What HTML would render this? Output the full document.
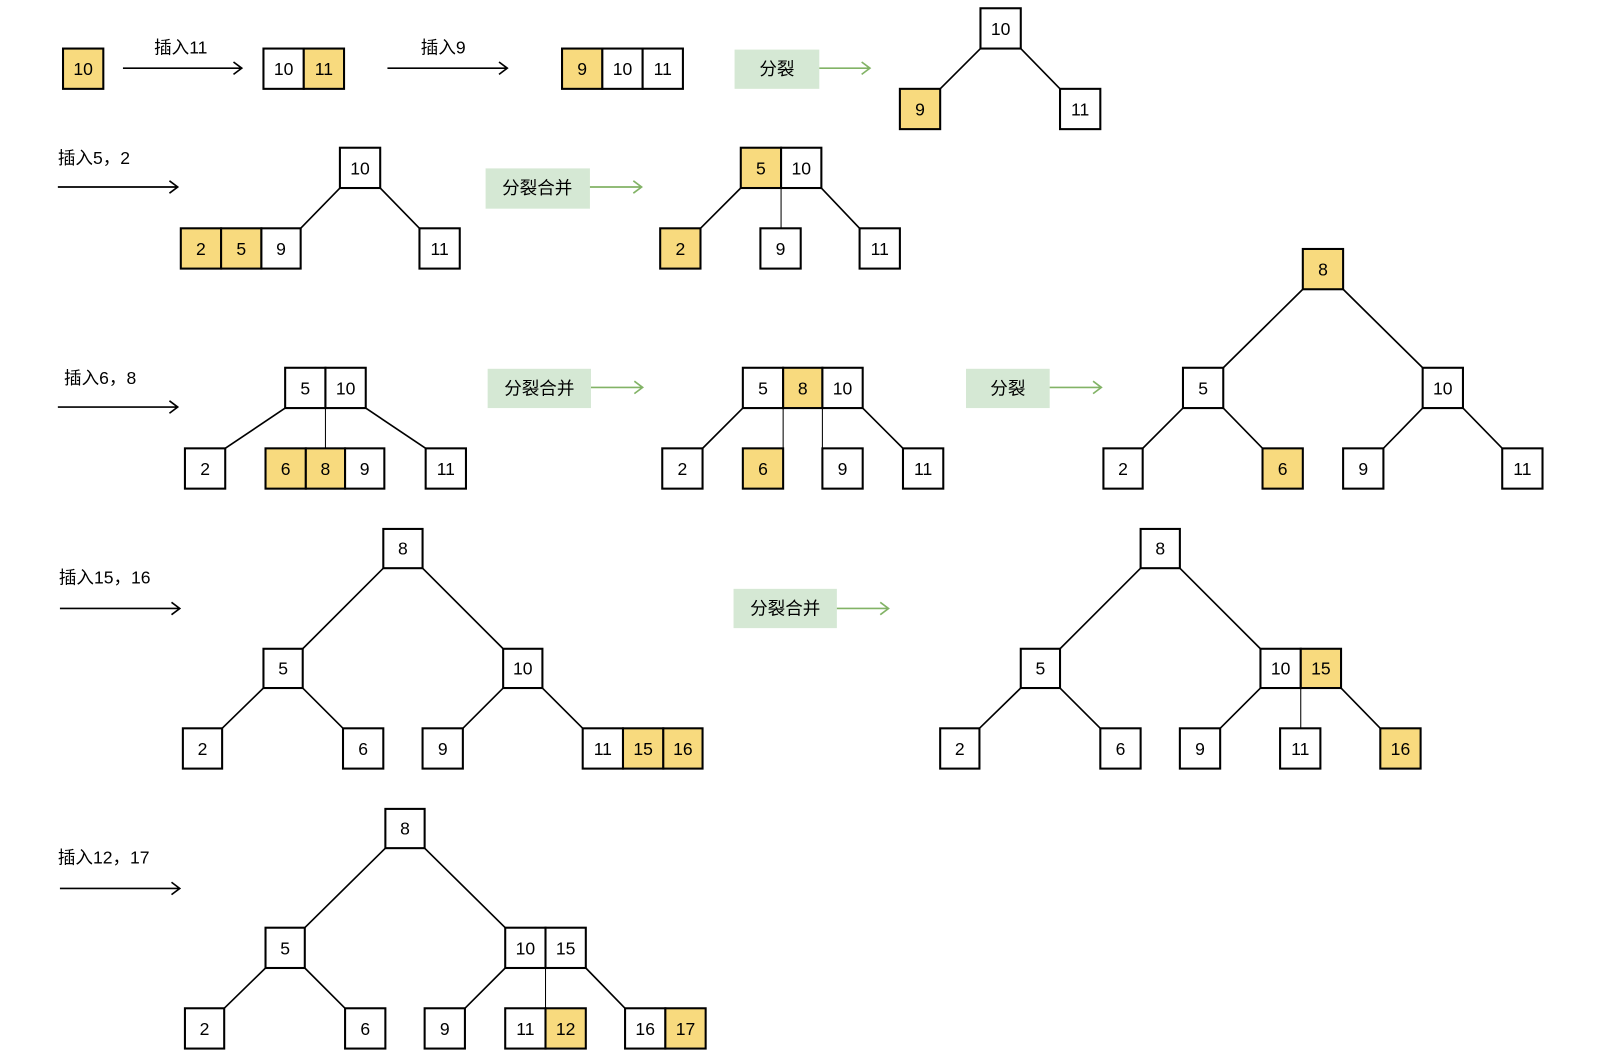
<!DOCTYPE html>
<html><head><meta charset="utf-8"><style>
html,body{margin:0;padding:0;background:#fff}
svg{display:block}
text{font-family:"Liberation Sans","Noto Sans CJK SC",sans-serif;font-size:17px;fill:#000;text-anchor:middle;dominant-baseline:central}
.lb{text-anchor:start}
.b{fill:#fff;stroke:#000;stroke-width:2}
.y{fill:#F8DA7E;stroke:#000;stroke-width:2}
.l{stroke:#000;stroke-width:1.6;fill:none}
.s{stroke:#000;stroke-width:1;fill:none}
.g{fill:#D5E8D4}
.ga{stroke:#82B366;stroke-width:1.6;fill:none}
</style></head><body>
<svg width="1620" height="1062" viewBox="0 0 1568 1028" preserveAspectRatio="none" xmlns="http://www.w3.org/2000/svg">
<!-- Row 1 -->
<rect class="y" x="61" y="47" width="39" height="39"/><text x="80.5" y="67">10</text>
<text x="175" y="46">插入11</text><path class="l" d="M119 66H234M226 60L234 66L226 72"/>
<rect class="b" x="255" y="47" width="39" height="39"/><text x="274.5" y="67">10</text>
<rect class="y" x="294" y="47" width="39" height="39"/><text x="313.5" y="67">11</text>
<text x="429" y="46">插入9</text><path class="l" d="M375 66H491M483 60L491 66L483 72"/>
<rect class="y" x="544" y="47" width="39" height="39"/><text x="563.5" y="67">9</text>
<rect class="b" x="583" y="47" width="39" height="39"/><text x="602.5" y="67">10</text>
<rect class="b" x="622" y="47" width="39" height="39"/><text x="641.5" y="67">11</text>
<rect class="g" x="711" y="48" width="82" height="38"/><text x="752" y="67">分裂</text>
<path class="ga" d="M793 66H842M834 60L842 66L834 72"/>
<path class="l" d="M949 47L910 86M988 47L1026 86"/>
<rect class="b" x="949" y="8" width="39" height="39"/><text x="968.5" y="28">10</text>
<rect class="y" x="871" y="86" width="39" height="39"/><text x="890.5" y="106">9</text>
<rect class="b" x="1026" y="86" width="39" height="39"/><text x="1045.5" y="106">11</text>

<!-- Row 2 -->
<text class="lb" x="56" y="153">插入5，2</text><path class="l" d="M56 181H172M164 175L172 181L164 187"/>
<path class="l" d="M329 182L291 221M368 182L406 221"/>
<rect class="b" x="329" y="143" width="39" height="39"/><text x="348.5" y="163">10</text>
<rect class="y" x="175" y="221" width="39" height="39"/><text x="194.5" y="241">2</text>
<rect class="y" x="214" y="221" width="39" height="39"/><text x="233.5" y="241">5</text>
<rect class="b" x="253" y="221" width="38" height="39"/><text x="272" y="241">9</text>
<rect class="b" x="406" y="221" width="39" height="39"/><text x="425.5" y="241">11</text>
<rect class="g" x="470" y="163" width="101" height="39"/><text x="520" y="182">分裂合并</text>
<path class="ga" d="M571 181H621M613 175L621 181L613 187"/>
<path class="l" d="M717 182L678 221M795 182L832 221"/><path class="s" d="M756 182V221"/>
<rect class="y" x="717" y="143" width="39" height="39"/><text x="736.5" y="163">5</text>
<rect class="b" x="756" y="143" width="39" height="39"/><text x="775.5" y="163">10</text>
<rect class="y" x="639" y="221" width="39" height="39"/><text x="658.5" y="241">2</text>
<rect class="b" x="736" y="221" width="39" height="39"/><text x="755.5" y="241">9</text>
<rect class="b" x="832" y="221" width="39" height="39"/><text x="851.5" y="241">11</text>

<!-- Row 3 -->
<text class="lb" x="62" y="366">插入6，8</text><path class="l" d="M56 394H172M164 388L172 394L164 400"/>
<path class="l" d="M276 395L218 434M354 395L412 434"/><path class="s" d="M315 395V434"/>
<rect class="b" x="276" y="356" width="39" height="39"/><text x="295.5" y="376">5</text>
<rect class="b" x="315" y="356" width="39" height="39"/><text x="334.5" y="376">10</text>
<rect class="b" x="179" y="434" width="39" height="39"/><text x="198.5" y="454">2</text>
<rect class="y" x="257" y="434" width="39" height="39"/><text x="276.5" y="454">6</text>
<rect class="y" x="296" y="434" width="38" height="39"/><text x="315" y="454">8</text>
<rect class="b" x="334" y="434" width="38" height="39"/><text x="353" y="454">9</text>
<rect class="b" x="412" y="434" width="39" height="39"/><text x="431.5" y="454">11</text>
<rect class="g" x="472" y="357" width="100" height="38"/><text x="522" y="376">分裂合并</text>
<path class="ga" d="M572 375H622M614 369L622 375L614 381"/>
<path class="l" d="M719 395L680 434M835 395L874 434"/><path class="s" d="M758 395V434M796 395V434"/>
<rect class="b" x="719" y="356" width="39" height="39"/><text x="738.5" y="376">5</text>
<rect class="y" x="758" y="356" width="38" height="39"/><text x="777" y="376">8</text>
<rect class="b" x="796" y="356" width="39" height="39"/><text x="815.5" y="376">10</text>
<rect class="b" x="641" y="434" width="39" height="39"/><text x="660.5" y="454">2</text>
<rect class="y" x="719" y="434" width="39" height="39"/><text x="738.5" y="454">6</text>
<rect class="b" x="796" y="434" width="39" height="39"/><text x="815.5" y="454">9</text>
<rect class="b" x="874" y="434" width="39" height="39"/><text x="893.5" y="454">11</text>
<rect class="g" x="935" y="357" width="81" height="38"/><text x="975.5" y="376">分裂</text>
<path class="ga" d="M1016 375H1066M1058 369L1066 375L1058 381"/>
<path class="l" d="M1261 280L1184 356M1300 280L1377 356M1145 395L1106 434M1184 395L1222 434M1377 395L1339 434M1416 395L1454 434"/>
<rect class="y" x="1261" y="241" width="39" height="39"/><text x="1280.5" y="261">8</text>
<rect class="b" x="1145" y="356" width="39" height="39"/><text x="1164.5" y="376">5</text>
<rect class="b" x="1377" y="356" width="39" height="39"/><text x="1396.5" y="376">10</text>
<rect class="b" x="1068" y="434" width="38" height="39"/><text x="1087" y="454">2</text>
<rect class="y" x="1222" y="434" width="39" height="39"/><text x="1241.5" y="454">6</text>
<rect class="b" x="1300" y="434" width="39" height="39"/><text x="1319.5" y="454">9</text>
<rect class="b" x="1454" y="434" width="39" height="39"/><text x="1473.5" y="454">11</text>

<!-- Row 4 -->
<text class="lb" x="57" y="559">插入15，16</text><path class="l" d="M58 589H174M166 583L174 589L166 595"/>
<path class="l" d="M371 550L293 628M409 550L487 628M255 666L215 705M293 666L332 705M487 666L448 705M525 666L564 705"/>
<rect class="b" x="371" y="512" width="38" height="38"/><text x="390" y="531">8</text>
<rect class="b" x="255" y="628" width="38" height="38"/><text x="274" y="647">5</text>
<rect class="b" x="487" y="628" width="38" height="38"/><text x="506" y="647">10</text>
<rect class="b" x="177" y="705" width="38" height="39"/><text x="196" y="725">2</text>
<rect class="b" x="332" y="705" width="39" height="39"/><text x="351.5" y="725">6</text>
<rect class="b" x="409" y="705" width="39" height="39"/><text x="428.5" y="725">9</text>
<rect class="b" x="564" y="705" width="39" height="39"/><text x="583.5" y="725">11</text>
<rect class="y" x="603" y="705" width="39" height="39"/><text x="622.5" y="725">15</text>
<rect class="y" x="642" y="705" width="38" height="39"/><text x="661" y="725">16</text>
<rect class="g" x="710" y="570" width="100" height="38"/><text x="760" y="589">分裂合并</text>
<path class="ga" d="M810 589H860M852 583L860 589L852 595"/>
<path class="l" d="M1104 550L1026 628M1142 550L1220 628M988 666L948 705M1026 666L1065 705M1220 666L1181 705M1298 666L1336 705"/><path class="s" d="M1259 666V705"/>
<rect class="b" x="1104" y="512" width="38" height="38"/><text x="1123" y="531">8</text>
<rect class="b" x="988" y="628" width="38" height="38"/><text x="1007" y="647">5</text>
<rect class="b" x="1220" y="628" width="39" height="38"/><text x="1239.5" y="647">10</text>
<rect class="y" x="1259" y="628" width="39" height="38"/><text x="1278.5" y="647">15</text>
<rect class="b" x="910" y="705" width="38" height="39"/><text x="929" y="725">2</text>
<rect class="b" x="1065" y="705" width="39" height="39"/><text x="1084.5" y="725">6</text>
<rect class="b" x="1142" y="705" width="39" height="39"/><text x="1161.5" y="725">9</text>
<rect class="b" x="1239" y="705" width="39" height="39"/><text x="1258.5" y="725">11</text>
<rect class="y" x="1336" y="705" width="39" height="39"/><text x="1355.5" y="725">16</text>

<!-- Row 5 -->
<text class="lb" x="56" y="830">插入12，17</text><path class="l" d="M58 860H174M166 854L174 860L166 866"/>
<path class="l" d="M373 821L295 898M411 821L489 898M257 937L217 976M295 937L334 976M489 937L450 976M567 937L605 976"/><path class="s" d="M528 937V976"/>
<rect class="b" x="373" y="783" width="38" height="38"/><text x="392" y="802">8</text>
<rect class="b" x="257" y="898" width="38" height="39"/><text x="276" y="918">5</text>
<rect class="b" x="489" y="898" width="39" height="39"/><text x="508.5" y="918">10</text>
<rect class="b" x="528" y="898" width="39" height="39"/><text x="547.5" y="918">15</text>
<rect class="b" x="179" y="976" width="38" height="39"/><text x="198" y="996">2</text>
<rect class="b" x="334" y="976" width="39" height="39"/><text x="353.5" y="996">6</text>
<rect class="b" x="411" y="976" width="39" height="39"/><text x="430.5" y="996">9</text>
<rect class="b" x="489" y="976" width="39" height="39"/><text x="508.5" y="996">11</text>
<rect class="y" x="528" y="976" width="39" height="39"/><text x="547.5" y="996">12</text>
<rect class="b" x="605" y="976" width="39" height="39"/><text x="624.5" y="996">16</text>
<rect class="y" x="644" y="976" width="39" height="39"/><text x="663.5" y="996">17</text>
</svg>
</body></html>
